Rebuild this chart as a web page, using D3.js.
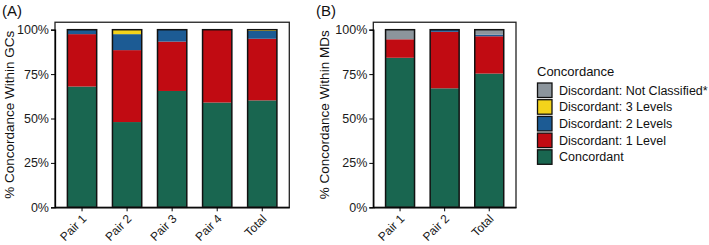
<!DOCTYPE html>
<html><head><meta charset="utf-8">
<script src="https://cdn.jsdelivr.net/npm/d3@7"></script>
<style>body{margin:0;background:#fff}svg{display:block;font-family:"Liberation Sans",Arial,sans-serif}</style>
</head><body><svg id="c" width="709" height="245"></svg>
<script>
const seriesNames = ["Concordant","Discordant: 1 Level","Discordant: 2 Levels","Discordant: 3 Levels","Discordant: Not Classified*"];
const seriesColors = ["#196650","#c10b12","#1c5b94","#f3d31b","#8c959c"];
const legendOrder = ["Discordant: Not Classified*","Discordant: 3 Levels","Discordant: 2 Levels","Discordant: 1 Level","Concordant"];

const catsA = ["Pair 1","Pair 2","Pair 3","Pair 4","Total"];
const concA = [68.0, 48.0, 65.5, 59.0, 60.2];
const d1A   = [29.5, 40.5, 27.8, 41.0, 34.7];
const d2A   = [2.5, 9.0, 6.7, 0.0, 4.5];
const d3A   = [0.0, 2.5, 0.0, 0.0, 0.6];
const ncA   = [0.0, 0.0, 0.0, 0.0, 0.0];

const catsB = ["Pair 1","Pair 2","Total"];
const concB = [84.2, 67.0, 75.3];
const d1B   = [10.4, 31.8, 21.0];
const d2B   = [0.0, 1.2, 0.9];
const d3B   = [0.0, 0.0, 0.0];
const ncB   = [5.4, 0.0, 2.8];

const yTicks = [0, 25, 50, 75, 100];

const svg = d3.select("#c");

function panel(cfg){
  const {cats, series, x0, x1, yTitle, label, labelX, titleX} = cfg;
  const yBottom = 207.3, y100 = 29.7;
  const y = d3.scaleLinear().domain([0,100]).range([yBottom, y100]);
  const yTop = y(104.2);
  const x = d3.scaleBand().domain(cats).range([x0, x1]).paddingInner(0.35).paddingOuter(0.275);
  const g = svg.append("g");
  const rows = cats.map((c,i)=>{const o={cat:c}; seriesNames.forEach((s,k)=>o[s]=series[k][i]); return o;});
  const stack = d3.stack().keys(seriesNames)(rows);
  stack.forEach((layer,k)=>{
    g.selectAll(null).data(layer).join("rect")
      .attr("x", d=>x(d.data.cat)).attr("width", x.bandwidth())
      .attr("y", d=>y(d[1])).attr("height", d=>Math.max(0, y(d[0])-y(d[1])))
      .attr("fill", seriesColors[k]);
  });
  g.selectAll(null).data(rows).join("rect")
    .attr("x", d=>x(d.cat)).attr("width", x.bandwidth())
    .attr("y", y(100)).attr("height", y(0)-y(100))
    .attr("fill","none").attr("stroke","#111").attr("stroke-width",1.5);
  g.append("rect").attr("x",x0).attr("y",yTop).attr("width",x1-x0).attr("height",yBottom-yTop)
    .attr("fill","none").attr("stroke","#222").attr("stroke-width",1.3);
  const ya = g.append("g").attr("transform",`translate(${x0},0)`)
    .call(d3.axisLeft(y).tickValues(yTicks).tickFormat(d=>d+"%").tickSize(4).tickPadding(2));
  ya.select(".domain").attr("stroke","#000").attr("stroke-width",1.3);
  ya.selectAll(".tick line").attr("stroke","#000").attr("stroke-width",1);
  ya.selectAll("text").attr("font-size","12.5px").attr("fill","#1a1a1a").attr("font-family","Liberation Sans, Arial, sans-serif");
  const xa = g.append("g").attr("transform",`translate(0,${yBottom})`)
    .call(d3.axisBottom(x).tickSize(4).tickSizeOuter(0));
  xa.select(".domain").attr("stroke","#000").attr("stroke-width",1.3);
  xa.selectAll(".tick line").attr("stroke","#000").attr("stroke-width",1);
  xa.selectAll("text").attr("font-size","12px").attr("fill","#1a1a1a").attr("font-family","Liberation Sans, Arial, sans-serif")
    .attr("text-anchor","end").attr("dy",null).attr("y",null)
    .attr("transform","translate(-1,6) rotate(-45)").attr("dominant-baseline","hanging");
  svg.append("text").attr("transform",`translate(${titleX},${(yTop+yBottom)/2}) rotate(-90)`)
    .attr("text-anchor","middle").attr("dominant-baseline","central")
    .attr("font-size","13.5px").attr("fill","#111").text(yTitle);
  svg.append("text").attr("x",labelX).attr("y",16).attr("font-size","15px").attr("fill","#111").text(label);
}

panel({cats:catsA, series:[concA,d1A,d2A,d3A,ncA], x0:55, x1:289.3, yTitle:"% Concordance Within GCs", label:"(A)", labelX:2, titleX:9.5});
panel({cats:catsB, series:[concB,d1B,d2B,d3B,ncB], x0:373.3, x1:516, yTitle:"% Concordance Within MDs", label:"(B)", labelX:316, titleX:324});

const lg = svg.append("g");
lg.append("text").attr("x",537).attr("y",76).attr("font-size","13px").attr("fill","#111").text("Concordance");
legendOrder.forEach((name,i)=>{
  const k = seriesNames.indexOf(name);
  const yy = 83 + i*16.7;
  lg.append("rect").attr("x",537.5).attr("y",yy).attr("width",14.5).attr("height",14.5)
    .attr("fill",seriesColors[k]).attr("stroke","#111").attr("stroke-width",1.3);
  lg.append("text").attr("x",559).attr("y",yy+7.5).attr("dominant-baseline","central")
    .attr("font-size","12.5px").attr("fill","#111").text(name);
});
</script></body></html>
